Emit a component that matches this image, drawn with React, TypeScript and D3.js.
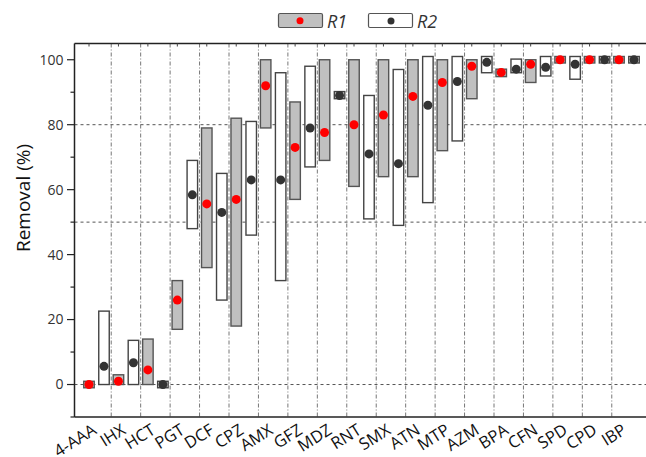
import React from "react";
import * as d3 from "d3";

const categories = ["4-AAA","IHX","HCT","PGT","DCF","CPZ","AMX","GFZ","MDZ","RNT","SMX","ATN","MTP","AZM","BPA","CFN","SPD","CPD","IBP"];

const r1Min  = [-1, 0, 0, 17, 36, 18, 79, 57, 69, 61, 64, 64, 72, 88, 94.8, 93, 99, 99, 99];
const r1Max  = [1, 3, 14, 32, 79, 82, 100, 87, 100, 100, 100, 100, 100, 100, 97.1, 100, 101, 101, 101];
const r1Mean = [0, 1, 4.5, 26, 55.6, 57, 92, 73, 77.6, 80, 83, 88.7, 93, 98, 96.1, 98.6, 100, 100, 100];

const r2Min  = [0, 0, -1, 48, 26, 46, 32, 67, 88, 51, 49, 56, 75, 96, 96, 95, 94, 99, 99];
const r2Max  = [22.6, 13.6, 1, 69, 65, 81, 96, 98, 90.2, 89, 97, 101, 101, 101, 100.2, 101, 101, 101, 101];
const r2Mean = [5.6, 6.7, 0, 58.4, 53, 63, 63, 79, 89, 71, 68, 86, 93.3, 99.2, 97.1, 97.7, 98.6, 100, 100];

const yMajor = [0, 20, 40, 60, 80, 100];
const yMinor = [-10, 10, 30, 50, 70, 90];
const hGrid = [0, 50, 80];
const seriesNames = ["R1", "R2"];

const W = 646, H = 457;
const left = 74.5, right = 648.5, top = 43.5, bottom = 417;
const font = "'Open Sans', 'Segoe UI', sans-serif";

export default function App() {
  const x = d3.scalePoint<string>().domain(categories).range([96.5, 626.5]);
  const y = d3.scaleLinear().domain([-10, 105]).range([bottom, top]);
  const step = x.step();
  const off = 7.5;
  const bw = 10.5;
  const boundaries = categories.slice(0, -1).map((c) => (x(c) as number) + step / 2);

  const series = [
    { name: seriesNames[0], mins: r1Min, maxs: r1Max, means: r1Mean, dx: -off, fill: "#c0c0c0", stroke: "#555", dot: "#ff0000" },
    { name: seriesNames[1], mins: r2Min, maxs: r2Max, means: r2Mean, dx: off, fill: "#ffffff", stroke: "#444", dot: "#333333" },
  ];

  return (
    <svg width={W} height={H} style={{ position: "absolute", left: 0, top: 0, display: "block" }} fontFamily={font}>
      <rect x={0} y={0} width={W} height={H} fill="#fff" />
      {boundaries.map((bx, i) => (
        <line key={"vg" + i} x1={bx} x2={bx} y1={top} y2={bottom} stroke="#777" strokeWidth={1} strokeDasharray="4,2,1,2" />
      ))}
      {hGrid.map((v) => (
        <line key={"hg" + v} x1={left} x2={right} y1={y(v)} y2={y(v)} stroke="#555" strokeWidth={1} strokeDasharray="3,3" />
      ))}
      {series.map((s) =>
        categories.map((c, i) => {
          const cx = (x(c) as number) + s.dx;
          const y1 = y(s.maxs[i]);
          const y2 = y(s.mins[i]);
          return (
            <rect key={s.name + c} x={cx - bw / 2} y={y1} width={bw} height={Math.max(1, y2 - y1)}
              fill={s.fill} stroke={s.stroke} strokeWidth={1.4} />
          );
        })
      )}
      {series.map((s) =>
        categories.map((c, i) => (
          <circle key={"d" + s.name + c} cx={(x(c) as number) + s.dx} cy={y(s.means[i])} r={4.5} fill={s.dot} />
        ))
      )}
      <line x1={left} x2={right} y1={top} y2={top} stroke="#222" strokeWidth={1.5} />
      <line x1={left} x2={right} y1={bottom} y2={bottom} stroke="#222" strokeWidth={1.5} />
      <line x1={left} x2={left} y1={top} y2={bottom} stroke="#222" strokeWidth={1.5} />
      {categories.map((c) => (
        <line key={"tt" + c} x1={(x(c) as number) - off} x2={(x(c) as number) - off} y1={top} y2={top + 3} stroke="#444" strokeWidth={1} />
      ))}
      {yMajor.map((v) => (
        <g key={"ym" + v}>
          <line x1={left - 7.5} x2={left} y1={y(v)} y2={y(v)} stroke="#222" strokeWidth={1.2} />
          <text x={left - 11} y={y(v)} dy="0.35em" textAnchor="end" fontSize={14} fill="#333">{v}</text>
        </g>
      ))}
      {yMinor.map((v) => (
        <line key={"yn" + v} x1={left - 4} x2={left} y1={y(v)} y2={y(v)} stroke="#222" strokeWidth={1.2} />
      ))}
      <text transform={`translate(23,${198}) rotate(-90)`} textAnchor="middle" dy="0.35em" fontSize={19} fill="#111">Removal (%)</text>
      {categories.map((c) => (
        <text key={"xl" + c} transform={`translate(${(x(c) as number) + 1},${433}) rotate(-32)`} textAnchor="end" fontSize={16.5} fill="#111">{c}</text>
      ))}
      <g>
        <rect x={278.5} y={13.5} width={44} height={14} rx={1.5} fill="#c0c0c0" stroke="#555" strokeWidth={1.2} />
        <circle cx={300} cy={20.7} r={3.5} fill="#ff0000" />
        <text x={327} y={28} fontSize={18} fontStyle="italic" fill="#333">{seriesNames[0]}</text>
        <rect x={368.5} y={13.5} width={44} height={14} rx={1.5} fill="#fff" stroke="#555" strokeWidth={1.2} />
        <circle cx={391} cy={21} r={3.5} fill="#333" />
        <text x={417} y={28} fontSize={18} fontStyle="italic" fill="#333">{seriesNames[1]}</text>
      </g>
    </svg>
  );
}
